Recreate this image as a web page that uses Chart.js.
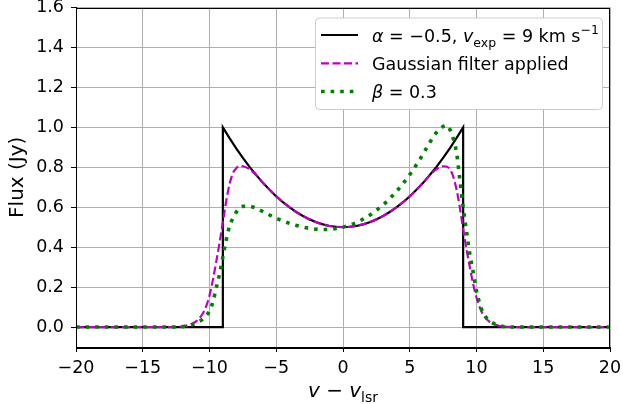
<!DOCTYPE html>
<html>
<head>
<meta charset="utf-8">
<script src="https://cdn.jsdelivr.net/npm/chart.js@4.4.0/dist/chart.umd.min.js"></script>
<style>
  html, body { margin: 0; padding: 0; background: #ffffff; }
</style>
</head>
<body>
<canvas id="fluxChart" width="623" height="404"></canvas>
<script>
// intrinsic profile, alpha = -0.5, v_exp = 9 km/s (sharp edges at +-9)
const vBlack = [-20, -9, -9, -8.5, -8, -7.5, -7, -6.5, -6, -5.5, -5, -4.5, -4, -3.5, -3, -2.5, -2, -1.5, -1, -0.5,
                0, 0.5, 1, 1.5, 2, 2.5, 3, 3.5, 4, 4.5, 5, 5.5, 6, 6.5, 7, 7.5, 8, 8.5, 9, 9, 20];
const fluxBlack = [0, 0, 1.0, 0.946, 0.895, 0.847, 0.802, 0.761, 0.722, 0.687, 0.654, 0.625, 0.599, 0.576, 0.556, 0.539, 0.525, 0.514, 0.506, 0.502,
                   0.5, 0.502, 0.506, 0.514, 0.525, 0.539, 0.556, 0.576, 0.599, 0.625, 0.654, 0.687, 0.722, 0.761, 0.802, 0.847, 0.895, 0.946, 1.0, 0, 0];

// velocity grid for the smoothed profiles
const vSmooth = [-20, -14, -13, -12, -11.5, -11, -10.5, -10.25, -10, -9.75, -9.5, -9.25, -9, -8.75, -8.5, -8.25, -8, -7.75, -7.5,
                 -7, -6.5, -6, -5.5, -5, -4.5, -4, -3.5, -3, -2.5, -2, -1.5, -1, -0.5, 0, 0.5, 1, 1.5, 2, 2.5, 3, 3.5, 4, 4.5,
                 5, 5.5, 6, 6.5, 7, 7.5, 7.75, 8, 8.25, 8.5, 8.75, 9, 9.25, 9.5, 9.75, 10, 10.25, 10.5, 11, 11.5, 12, 13, 14, 20];
const fluxGauss = [0, 0, 0, 0.003, 0.012, 0.028, 0.068, 0.104, 0.158, 0.235, 0.325, 0.42, 0.525, 0.63, 0.715, 0.77, 0.795, 0.806, 0.805,
                   0.79, 0.76, 0.722, 0.687, 0.654, 0.625, 0.599, 0.576, 0.556, 0.539, 0.525, 0.514, 0.506, 0.502, 0.5, 0.502, 0.506, 0.514, 0.525, 0.539, 0.556, 0.576, 0.599, 0.625,
                   0.654, 0.687, 0.722, 0.76, 0.79, 0.805, 0.804, 0.79, 0.755, 0.69, 0.6, 0.49, 0.39, 0.3, 0.215, 0.148, 0.097, 0.062, 0.025, 0.01, 0.002, 0, 0, 0];
const fluxBeta = [0, 0, 0, 0.002, 0.008, 0.02, 0.04, 0.056, 0.08, 0.125, 0.195, 0.265, 0.35, 0.435, 0.505, 0.545, 0.575, 0.597, 0.604,
                  0.605, 0.594, 0.578, 0.561, 0.545, 0.531, 0.519, 0.509, 0.5, 0.494, 0.49, 0.488, 0.489, 0.494, 0.5, 0.51, 0.523, 0.54, 0.56, 0.584, 0.611, 0.643, 0.679, 0.719,
                  0.763, 0.813, 0.866, 0.924, 0.974, 1.004, 1.01, 0.99, 0.945, 0.875, 0.74, 0.6, 0.48, 0.365, 0.275, 0.18, 0.115, 0.07, 0.03, 0.012, 0.003, 0, 0, 0];

const xTicks = [-20, -15, -10, -5, 0, 5, 10, 15, 20];
const yTicks = [0, 0.2, 0.4, 0.6, 0.8, 1.0, 1.2, 1.4, 1.6];

const FONT = '"DejaVu Sans", sans-serif';
const pts = (xs, ys) => xs.map((x, i) => ({ x: x, y: ys[i] }));
const minus = v => (v < 0 ? '\u2212' + Math.abs(v) : String(v));

// draw a row of text pieces (italic / sub / superscript), returns end x
function drawRuns(ctx, runs, x, y, measureOnly) {
  runs.forEach(r => {
    ctx.font = (r.italic ? 'italic ' : '') + r.size + 'px ' + FONT;
    if (!measureOnly) ctx.fillText(r.text, x, y + (r.dy || 0));
    x += ctx.measureText(r.text).width;
  });
  return x;
}

const legendRows = [
  { color: '#000000', width: 2.2, dash: [], runs: [
      { text: '\u03b1', italic: true, size: 17.5 },
      { text: ' = \u22120.5, ', size: 17.5 },
      { text: 'v', italic: true, size: 17.5 },
      { text: 'exp', size: 12.5, dy: 5 },
      { text: ' = 9 km s', size: 17.5 },
      { text: '\u22121', size: 12.5, dy: -7.5 } ] },
  { color: '#bf00bf', width: 2.2, dash: [8, 3.5], runs: [
      { text: 'Gaussian filter applied', size: 17.5 } ] },
  { color: '#008000', width: 3.6, dash: [3.6, 6], runs: [
      { text: '\u03b2', italic: true, size: 17.5 },
      { text: ' = 0.3', size: 17.5 } ] }
];

const decorations = {
  id: 'decorations',
  afterDraw(chart) {
    const ctx = chart.ctx;
    const a = chart.chartArea;
    ctx.save();

    // axes frame
    ctx.strokeStyle = '#000000';
    ctx.lineWidth = 1;
    ctx.strokeRect(Math.round(a.left) + 0.5, Math.round(a.top) + 0.5,
                   Math.round(a.right - a.left) - 1, Math.round(a.bottom - a.top));

    // legend box
    const bx = 315, by = 17.5, bw = 287, bh = 91.5, r = 4;
    ctx.beginPath();
    ctx.roundRect(bx + 0.5, by + 0.5, bw, bh, r);
    ctx.fillStyle = '#ffffff';
    ctx.fill();
    ctx.strokeStyle = '#cccccc';
    ctx.stroke();

    ctx.fillStyle = '#000000';
    ctx.textBaseline = 'alphabetic';
    ctx.textAlign = 'left';
    const rowY = [35, 63.3, 91.5];
    legendRows.forEach((row, i) => {
      ctx.beginPath();
      ctx.strokeStyle = row.color;
      ctx.lineWidth = row.width;
      ctx.setLineDash(row.dash);
      ctx.lineCap = 'butt';
      ctx.moveTo(321, rowY[i]);
      ctx.lineTo(358, rowY[i]);
      ctx.stroke();
      ctx.setLineDash([]);
      drawRuns(ctx, row.runs, 372, rowY[i] + 6.8);
    });

    // x axis title: v - v_lsr
    const xRuns = [
      { text: 'v', italic: true, size: 20 },
      { text: ' \u2212 ', size: 20 },
      { text: 'v', italic: true, size: 20 },
      { text: 'lsr', size: 14, dy: 4.5 }
    ];
    const w = drawRuns(ctx, xRuns, 0, 0, true);
    drawRuns(ctx, xRuns, (a.left + a.right) / 2 - w / 2, 397);

    // y axis title
    ctx.translate(18, (a.top + a.bottom) / 2);
    ctx.rotate(-Math.PI / 2);
    ctx.font = '20px ' + FONT;
    ctx.textAlign = 'center';
    ctx.textBaseline = 'middle';
    ctx.fillText('Flux (Jy)', 0, 0);
    ctx.restore();
  }
};

const gridOpts = {
  color: '#b0b0b0',
  lineWidth: 1,
  tickColor: '#000000',
  tickLength: 5,
  drawTicks: true
};

// fixed axis boxes so the plot area sits where it should
function fixX(s) {
  s.height = 57;
  s.paddingLeft = 0;
  s.paddingRight = 0;
}
function fixY(s) {
  s.width = 76;
  s.paddingTop = 0;
  s.paddingBottom = 0;
}

new Chart(document.getElementById('fluxChart'), {
  type: 'line',
  data: {
    datasets: [
      {
        label: 'alpha = -0.5, v_exp = 9 km/s',
        data: pts(vBlack, fluxBlack),
        borderColor: '#000000',
        borderWidth: 2.2,
        tension: 0,
        order: 3
      },
      {
        label: 'Gaussian filter applied',
        data: pts(vSmooth, fluxGauss),
        borderColor: '#bf00bf',
        borderWidth: 2.2,
        borderDash: [8, 3.5],
        cubicInterpolationMode: 'monotone',
        order: 2
      },
      {
        label: 'beta = 0.3',
        data: pts(vSmooth, fluxBeta),
        borderColor: '#008000',
        borderWidth: 3.6,
        borderDash: [3.6, 6],
        borderCapStyle: 'butt',
        cubicInterpolationMode: 'monotone',
        order: 1
      }
    ]
  },
  options: {
    responsive: false,
    animation: false,
    events: [],
    layout: { padding: { top: 7.5, right: 13, bottom: 0, left: 0 } },
    elements: { point: { radius: 0 }, line: { fill: false } },
    plugins: { legend: { display: false }, tooltip: { enabled: false } },
    scales: {
      x: {
        type: 'linear',
        min: -20,
        max: 20,
        grid: gridOpts,
        border: { display: true, color: '#000000', width: 1 },
        afterBuildTicks: s => { s.ticks = xTicks.map(v => ({ value: v })); },
        afterFit: fixX,
        ticks: {
          color: '#000000',
          font: { family: FONT, size: 17.5 },
          padding: 6,
          maxRotation: 0,
          callback: v => minus(v)
        }
      },
      y: {
        type: 'linear',
        min: -0.1,
        max: 1.6,
        grid: gridOpts,
        border: { display: true, color: '#000000', width: 1 },
        afterBuildTicks: s => { s.ticks = yTicks.map(v => ({ value: v })); },
        afterFit: fixY,
        ticks: {
          color: '#000000',
          font: { family: FONT, size: 17.5 },
          padding: 7,
          callback: v => v.toFixed(1)
        }
      }
    }
  },
  plugins: [decorations]
});
</script>
</body>
</html>
